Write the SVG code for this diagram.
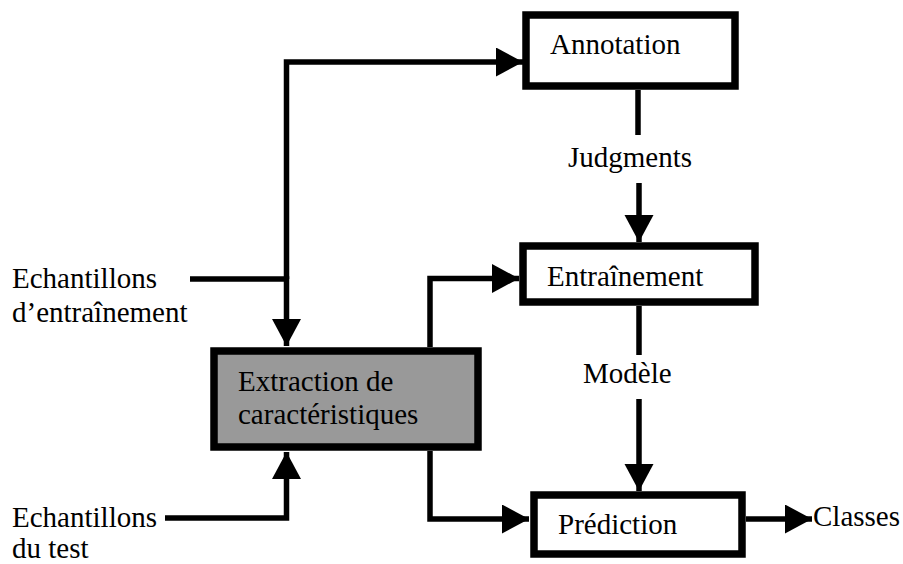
<svg xmlns="http://www.w3.org/2000/svg" width="903" height="564" viewBox="0 0 903 564">
<style>
.box{fill:#fff;stroke:#000;stroke-width:7.5}
.gray{fill:#999999}
.t{font-family:"Liberation Serif","Times New Roman",serif;font-size:29px;fill:#000}
.c{fill:none;stroke:#000;stroke-width:5.5;stroke-linejoin:miter}
</style>
<defs>
<marker id="ah" markerUnits="userSpaceOnUse" markerWidth="28" markerHeight="30" refX="27" refY="14.5" orient="auto">
<path d="M0,0 L27,14.5 L0,29 Z" fill="#000"/>
</marker>
</defs>
<rect width="903" height="564" fill="#fff"/>
<g id="connectors">
<path class="c" d="M190,279 H286.5 V346" marker-end="url(#ah)"/>
<path class="c" d="M286.5,279 V62 H523" marker-end="url(#ah)"/>
<path class="c" d="M165,518 H286.5 V452" marker-end="url(#ah)"/>
<path class="c" d="M430,347 V278.5 H519" marker-end="url(#ah)"/>
<path class="c" d="M430,451 V519 H529" marker-end="url(#ah)"/>
<path class="c" d="M638,90 V135"/>
<path class="c" d="M639,183 V242" marker-end="url(#ah)"/>
<path class="c" d="M639,306 V355"/>
<path class="c" d="M639,399 V491" marker-end="url(#ah)"/>
<path class="c" d="M746,519 H812" marker-end="url(#ah)"/>
<text class="t" x="568" y="167">Judgments</text>
<text class="t" x="583" y="383">Modèle</text>
</g>
<g id="annotation">
<rect class="box" x="526" y="15" width="209" height="71"/>
<text class="t" x="550" y="54">Annotation</text>
</g>
<g id="entrainement">
<rect class="box" x="523" y="246" width="232" height="56"/>
<text class="t" x="547" y="286">Entraînement</text>
</g>
<g id="extraction">
<rect class="box gray" x="214" y="351" width="264" height="96"/>
<text class="t" x="238" y="391">Extraction de</text>
<text class="t" x="238" y="424">caractéristiques</text>
</g>
<g id="prediction">
<rect class="box" x="534" y="495" width="208" height="59"/>
<text class="t" x="558" y="534">Prédiction</text>
</g>
<g id="ech-train">
<text class="t" x="12" y="288">Echantillons</text>
<text class="t" x="12" y="322">d’entraînement</text>
</g>
<g id="ech-test">
<text class="t" x="12" y="527">Echantillons</text>
<text class="t" x="12" y="558">du test</text>
</g>
<g id="classes">
<text class="t" x="813" y="526">Classes</text>
</g>
</svg>
